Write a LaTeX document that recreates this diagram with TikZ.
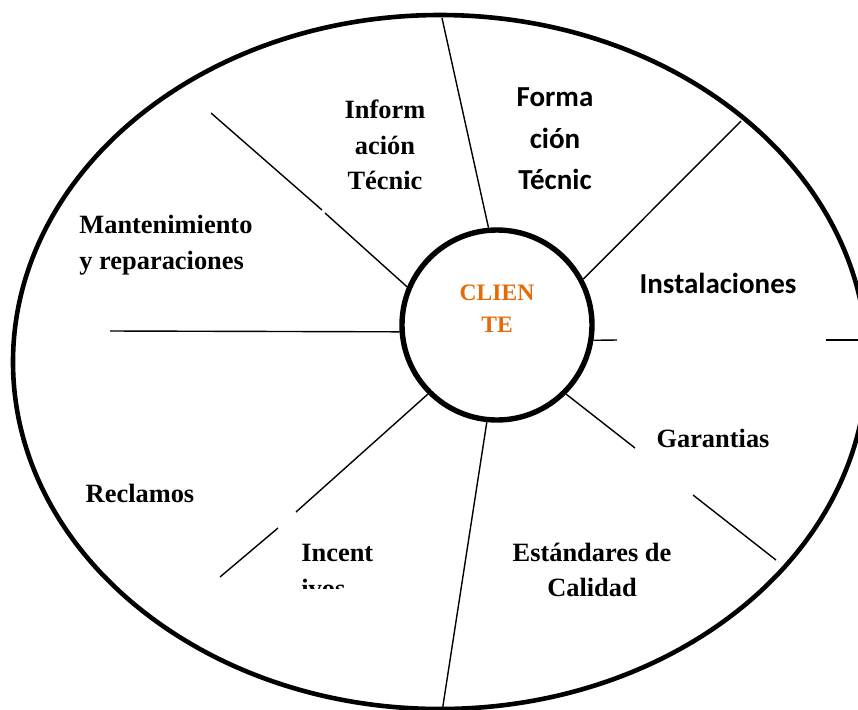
\documentclass[tikz,border=0pt]{standalone}
\usepackage{fontspec}
\setmainfont{Liberation Serif}
\newfontfamily\calfont{Carlito}
\definecolor{naranja}{HTML}{E36C0A}
\tikzset{
  sector/.style={font=\bfseries\fontsize{13.2}{17.7}\selectfont, inner sep=0pt, align=center},
  sectorc/.style={font=\calfont\bfseries\fontsize{14.5}{20.75}\selectfont, inner sep=0pt, align=center},
  radio/.style={line width=0.7pt}
}
\begin{document}
\begin{tikzpicture}[x=0.5pt,y=-0.5pt]
   \useasboundingbox (0,0) rectangle (858,709);
   \begin{scope}
     \clip (0,0) rectangle (858,709);
     \draw[line width=2.3pt] (440,362) ellipse [x radius=427, y radius=347];
     \draw[radio] (826,340) -- (870,340);
   \end{scope}

   \node[circle, draw, line width=2.7pt, minimum size=95pt, inner sep=0pt] (cliente) at (497,325) {};
   \node[font=\bfseries\fontsize{11.8}{16}\selectfont, text=naranja, align=center, inner sep=0pt] (textocli) at (497,309) {CLIEN\\TE};

   % radios
   \draw[radio] (cliente.95) -- (442,18);
   \draw[radio] (cliente.28) -- (741,121);
   \draw[radio] (cliente.-9) -- (617,340);
   \draw[radio] (cliente.-45) -- (635,448);
   \draw[radio] (693,495) -- (776,560);
   \draw[radio] (cliente.-96) -- (442,712);
   \draw[radio] (cliente.-135) -- (296,512);
   \draw[radio] (278,528) -- (220,577);
   \draw[radio] (cliente.184) -- (110,331);
   \draw[radio] (cliente.157) -- (325,213);
   \draw[radio] (322,210) -- (211,113);

   \node[sector] (info) at (385,145) {Inform\\ación\\Técnic};
   \node[sectorc] (forma) at (555,139) {Forma\\ción\\Técnic};
   \node[sectorc, anchor=base] (insta) at (718,293) {Instalaciones};
   \node[sector, anchor=base] (garan) at (713,447) {Garantias};
   \node[sector] (estan) at (592,570) {Estándares de\\Calidad};
   \node[sector, anchor=base] (recla) at (140,502) {Reclamos};
   \node[sector, align=left, anchor=west] (mante) at (79,245) {Mantenimiento\\y reparaciones};
   \begin{scope}
     \clip (250,530) rectangle (420,588);
     \node[sector, align=left, anchor=west] (incen) at (301,571) {Incent\\ivos};
   \end{scope}
\end{tikzpicture}
\end{document}
